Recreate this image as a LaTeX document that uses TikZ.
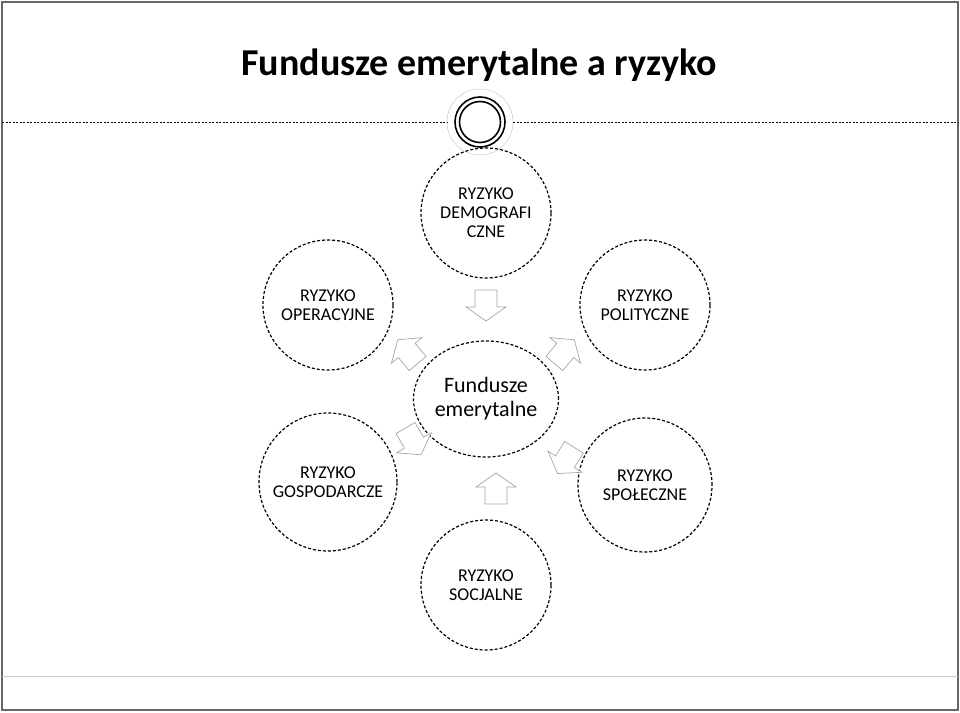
\documentclass[tikz,border=0pt]{standalone}
\usepackage{fontspec}
\setmainfont{Carlito}
\usetikzlibrary{shapes.geometric}
\tikzset{
 risk/.style={draw, dashed, line width=1.2pt, dash pattern=on 3pt off 2pt, circle, minimum size=#1, align=center, font=\fontsize{18}{19}\selectfont, inner sep=0pt},
 blk/.pic={\draw[gray!70, line width=0.7pt, fill=white] (-15,-11)--(2,-11)--(2,-20)--(16,0)--(2,20)--(2,11)--(-15,11)--cycle;}
}
\begin{document}
\begin{tikzpicture}[x=1pt,y=-1pt]
\useasboundingbox (0,0) rectangle (960,712);
\draw[line width=1.5pt, gray!80!black] (2,2) rectangle (958,710);
\draw[gray!40, line width=1pt] (2,676) -- (958,676);
\node[anchor=west, font=\bfseries\fontsize{38}{42}\selectfont] (title) at (238,65) {Fundusze emerytalne a ryzyko};
\coordinate (l0) at (2,122); \coordinate (r0) at (958,122);
\node[circle, draw=gray!50, fill=white, minimum size=66pt, inner sep=0pt] (deco) at (480,122) {};
\draw[dashed, dash pattern=on 2pt off 1.5pt, line width=0.8pt] (l0) -- (deco.west) (deco.east) -- (r0);
\draw[line width=1.6pt] (deco.center) circle[radius=25] (deco.center) circle[radius=20.5];
\node[risk=130pt] (top) at (486,213) {RYZYKO\\DEMOGRAFI\\CZNE};
\node[risk=130pt] (lt) at (328,305) {RYZYKO\\OPERACYJNE};
\node[risk=130pt] (rt) at (645,305) {RYZYKO\\POLITYCZNE};
\node[risk=138pt] (lb) at (328,482) {RYZYKO\\GOSPODARCZE};
\node[risk=134pt] (rb) at (645,485) {RYZYKO\\SPOŁECZNE};
\node[risk=130pt] (bot) at (486,585) {RYZYKO\\SOCJALNE};
\node[draw, dashed, dash pattern=on 3pt off 2pt, line width=1.2pt, ellipse, minimum width=144pt, minimum height=116pt, align=center, font=\fontsize{22}{24}\selectfont, inner sep=0pt] (mid) at (486,399) {Fundusze\\emerytalne};
\pic[rotate=-90] at (486,305) {blk};
\pic[rotate=90] at (496,489) {blk};
\pic[rotate=130] at (408,352) {blk};
\pic[rotate=50] at (564,352) {blk};
\pic[rotate=-60] at (413,441) {blk};
\pic[rotate=-122] at (566,460) {blk};
\end{tikzpicture}
\end{document}
